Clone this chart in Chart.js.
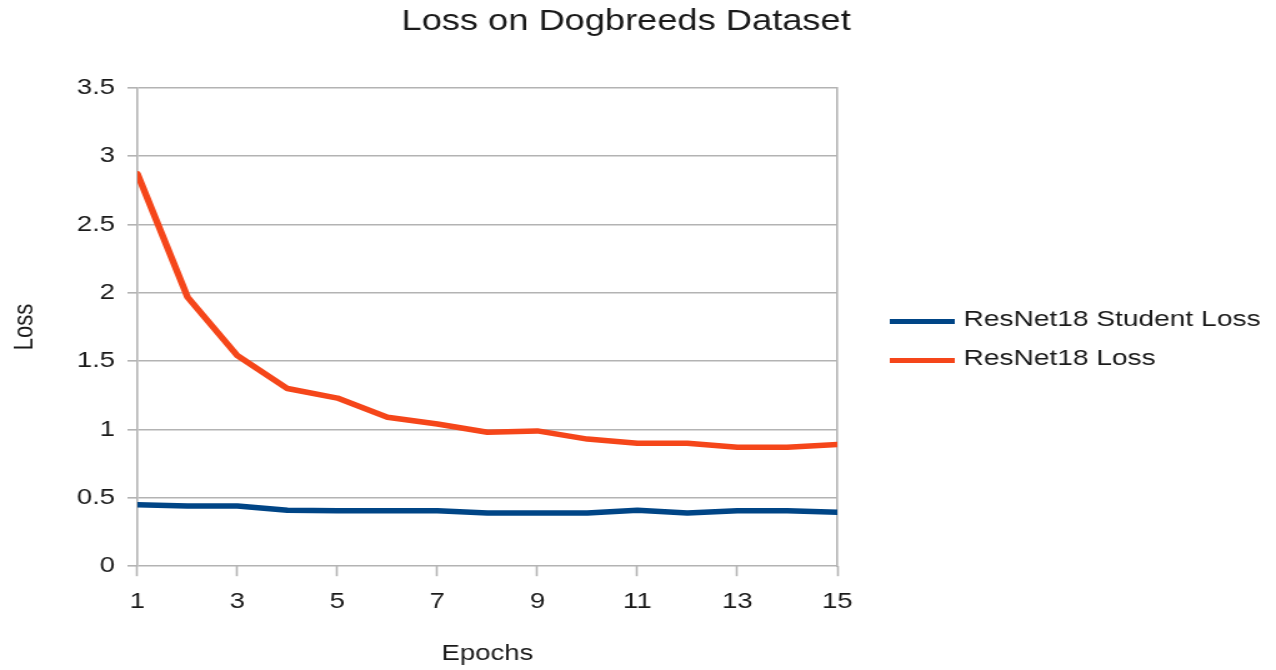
<!DOCTYPE html>
<html>
<head>
<meta charset="utf-8">
<title>Loss on Dogbreeds Dataset</title>
<script src="https://cdn.jsdelivr.net/npm/chart.js@4.4.1/dist/chart.umd.min.js"></script>
<style>
  html, body { margin: 0; padding: 0; background: #ffffff; overflow: hidden; }
  /* the chart is laid out on a narrower canvas and widened, giving the wide lettering */
  #wrap {
    position: absolute; left: 0; top: 0;
    width: 1021px; height: 670px;
    transform: scaleX(1.2497); transform-origin: 0 0;
  }
</style>
</head>
<body>
<div id="wrap"><canvas id="lossChart"></canvas></div>
<script>
// training epochs
const epochs = [1, 2, 3, 4, 5, 6, 7, 8, 9, 10, 11, 12, 13, 14, 15];

// loss per epoch
const studentLoss = [0.45, 0.44, 0.44, 0.41, 0.405, 0.405, 0.405, 0.39, 0.39, 0.39, 0.41, 0.39, 0.405, 0.405, 0.395];
const resnetLoss  = [2.87, 1.97, 1.54, 1.30, 1.23, 1.09, 1.04, 0.98, 0.99, 0.93, 0.90, 0.90, 0.87, 0.87, 0.89];

const seriesNames  = ['ResNet18 Student Loss', 'ResNet18 Loss'];
const seriesColors = ['#004586', '#f5461a'];

// axis tick labels
const xTickValues = [1, 3, 5, 7, 9, 11, 13, 15];
const yTickValues = [0, 0.5, 1, 1.5, 2, 2.5, 3, 3.5];

const FONT = '"Liberation Sans", Arial, sans-serif';
const TEXT = '#1a1a1a';
const GRID = '#b3b3b3';

const toPoints = vals => epochs.map((e, i) => ({ x: e, y: vals[i] }));

// legend drawn to the right of the plot, a short line sample followed by the name
const sideLegend = {
  id: 'sideLegend',
  afterDraw(chart) {
    const { ctx, chartArea } = chart;
    const x0 = chartArea.right + 42;
    let y = (chartArea.top + chartArea.bottom) / 2 - 5.5;
    ctx.save();
    ctx.font = '22.5px ' + FONT;
    ctx.textBaseline = 'middle';
    ctx.textAlign = 'left';
    chart.data.datasets.forEach(ds => {
      ctx.strokeStyle = ds.borderColor;
      ctx.lineWidth = 5;
      ctx.lineCap = 'butt';
      ctx.beginPath();
      ctx.moveTo(x0, y);
      ctx.lineTo(x0 + 52, y);
      ctx.stroke();
      ctx.fillStyle = TEXT;
      ctx.fillText(ds.label, x0 + 59, y - 1.5);
      y += 39;
    });
    ctx.restore();
  }
};

new Chart(document.getElementById('lossChart'), {
  type: 'line',
  data: {
    datasets: [
      {
        label: seriesNames[0],
        data: toPoints(studentLoss),
        borderColor: seriesColors[0],
        backgroundColor: seriesColors[0],
        borderWidth: 5.5,
        pointRadius: 0,
        tension: 0,
        borderJoinStyle: 'round',
        borderCapStyle: 'round'
      },
      {
        label: seriesNames[1],
        data: toPoints(resnetLoss),
        borderColor: seriesColors[1],
        backgroundColor: seriesColors[1],
        borderWidth: 5.5,
        pointRadius: 0,
        tension: 0,
        borderJoinStyle: 'round',
        borderCapStyle: 'round'
      }
    ]
  },
  options: {
    responsive: true,
    maintainAspectRatio: false,
    animation: false,
    devicePixelRatio: 1,
    layout: { padding: { left: 0, right: 19, top: 0, bottom: 0 } },
    plugins: {
      legend: { display: false },
      tooltip: { enabled: false },
      title: {
        display: true,
        text: 'Loss on Dogbreeds Dataset',
        color: TEXT,
        font: { family: FONT, size: 29, weight: 'normal' },
        padding: { top: 5, bottom: 48 }
      }
    },
    scales: {
      x: {
        type: 'linear',
        min: 1,
        max: 15,
        afterBuildTicks: s => { s.ticks = xTickValues.map(v => ({ value: v })); },
        grid: {
          display: true,
          drawOnChartArea: false,
          drawTicks: true,
          tickLength: 10,
          tickColor: GRID,
          tickWidth: 1.6
        },
        border: { display: false },
        ticks: {
          color: TEXT,
          font: { family: FONT, size: 22 },
          padding: 13,
          maxRotation: 0,
          autoSkip: false,
          callback: v => String(v)
        },
        title: {
          display: true,
          text: 'Epochs',
          color: TEXT,
          font: { family: FONT, size: 22 },
          padding: { top: 12, bottom: 3 }
        }
      },
      y: {
        type: 'linear',
        position: 'left',
        min: 0,
        max: 3.5,
        afterBuildTicks: s => { s.ticks = yTickValues.map(v => ({ value: v })); },
        grid: {
          color: GRID,
          lineWidth: 1.6,
          drawTicks: true,
          tickLength: 8,
          tickColor: GRID
        },
        border: { display: true, color: GRID, width: 1.6 },
        ticks: {
          color: TEXT,
          font: { family: FONT, size: 22 },
          padding: 10,
          callback: v => String(v)
        },
        title: {
          display: true,
          text: 'Loss',
          color: TEXT,
          font: { family: FONT, size: 22 },
          padding: { top: 7, bottom: 18 }
        }
      },
      // right-hand frame line of the plot, and room for the legend beside it
      frame: {
        type: 'linear',
        position: 'right',
        display: true,
        grid: { display: false },
        ticks: { display: false },
        border: { display: true, color: GRID, width: 1.6 },
        afterFit: s => { s.width = 332; }
      }
    }
  },
  plugins: [sideLegend]
});
</script>
</body>
</html>
